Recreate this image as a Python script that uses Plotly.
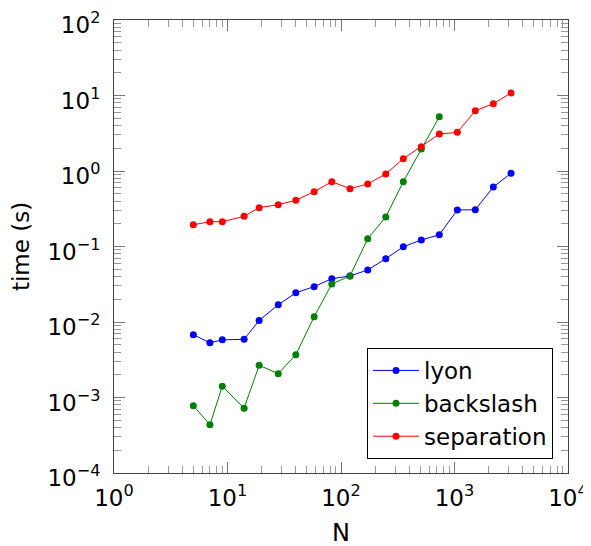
import plotly.graph_objects as go

N = [5, 7, 9, 14, 19, 28, 40, 58, 83, 120, 172, 248, 354, 510, 735, 1059, 1525, 2197, 3147]
lyon = [0.0068, 0.0053, 0.0058, 0.0059, 0.0105, 0.0169, 0.0244, 0.0294, 0.0375, 0.0407,
        0.0489, 0.0689, 0.0993, 0.122, 0.143, 0.304, 0.307, 0.614, 0.932]
backslash = [0.00078, 0.000436, 0.00141, 0.00072, 0.00267, 0.00207, 0.00369, 0.01175,
             0.0319, 0.0407, 0.127, 0.246, 0.721, 1.96, 5.24]
separation = [0.194, 0.213, 0.213, 0.251, 0.327, 0.358, 0.409, 0.532, 0.721, 0.583,
              0.673, 0.913, 1.456, 2.10, 3.09, 3.25, 6.29, 7.79, 10.8]

x_tickvals = [1, 10, 100, 1000, 10000]
x_ticktext = ["10<sup>0</sup>", "10<sup>1</sup>", "10<sup>2</sup>", "10<sup>3</sup>", "10<sup>4</sup>"]
y_tickvals = [1e-4, 1e-3, 1e-2, 1e-1, 1, 10, 100]
y_ticktext = ["10<sup>−4</sup>", "10<sup>−3</sup>", "10<sup>−2</sup>", "10<sup>−1</sup>",
              "10<sup>0</sup>", "10<sup>1</sup>", "10<sup>2</sup>"]

fig = go.Figure()
series = [("lyon", N, lyon, "#0000ff"),
          ("backslash", N[:len(backslash)], backslash, "#008000"),
          ("separation", N, separation, "#ff0000")]
for name, xs, ys, col in series:
    fig.add_trace(go.Scatter(x=xs, y=ys, name=name, mode="lines+markers",
                             line=dict(color=col, width=1),
                             marker=dict(color=col, size=7, symbol="circle")))

FONT = "DejaVu Sans"
axis_common = dict(
    type="log", showgrid=False, zeroline=False, showline=True, linecolor="#444",
    linewidth=1, mirror="allticks", ticks="inside", ticklen=11, tickcolor="#777",
    tickwidth=1, automargin=False, ticklabeloverflow="allow",
    minor=dict(ticks="inside", ticklen=7, tickcolor="#999", dtick="D1", showgrid=False),
    tickfont=dict(family=FONT, size=23, color="black"),
)
fig.update_xaxes(range=[0, 4], tickvals=x_tickvals, ticktext=x_ticktext, ticklabelstandoff=4,
                 title=dict(text="N", font=dict(family=FONT, size=24, color="black"), standoff=14),
                 **axis_common)
fig.update_yaxes(range=[-4, 2], tickvals=y_tickvals, ticktext=y_ticktext, ticklabelstandoff=8,
                 ticklabelshift=5,
                 title=dict(text="time (s)", font=dict(family=FONT, size=23, color="black"), standoff=14),
                 **axis_common)
fig.update_layout(
    width=591, height=546,
    margin=dict(l=106, r=31, t=12, b=81, autoexpand=False),
    plot_bgcolor="white", paper_bgcolor="white",
    font=dict(family=FONT, size=22, color="black"),
    legend=dict(x=0.967, y=0.031, xanchor="right", yanchor="bottom",
                bordercolor="black", borderwidth=1, bgcolor="white",
                font=dict(family=FONT, size=23, color="black"),
                tracegroupgap=0, itemwidth=46),
    showlegend=True,
)
fig.write_html("out.html")
